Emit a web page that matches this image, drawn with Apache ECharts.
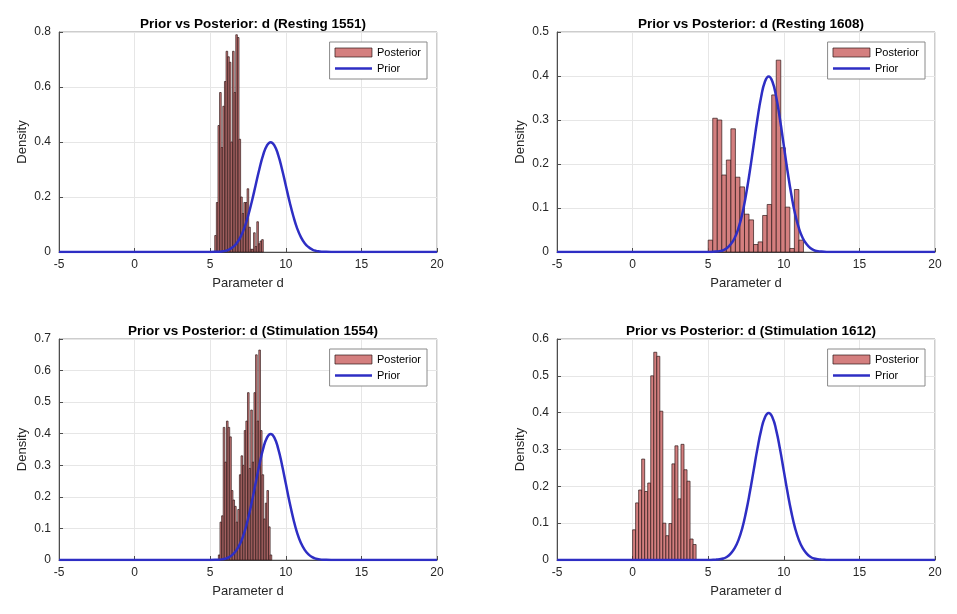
<!DOCTYPE html>
<html>
<head>
<meta charset="utf-8">
<script src="https://cdn.jsdelivr.net/npm/echarts@6/dist/echarts.min.js"></script>
<style>
  html, body { margin: 0; padding: 0; background: #fff; }
  #main { width: 957px; height: 614px; }
</style>
</head>
<body>
<div id="main"></div>
<script>
var titles = [
    'Prior vs Posterior: d (Resting 1551)',
    'Prior vs Posterior: d (Resting 1608)',
    'Prior vs Posterior: d (Stimulation 1554)',
    'Prior vs Posterior: d (Stimulation 1612)'
];

// histogram bins: first left edge and bin width per panel
var binStart = [5.3, 5.0, 5.54, 0.0];
var binWidth = [0.107, 0.3, 0.107, 0.2];

// posterior densities
var post1551 = [0.06, 0.18, 0.46, 0.58, 0.38, 0.53, 0.62, 0.73, 0.71, 0.69,
    0.40, 0.73, 0.58, 0.79, 0.78, 0.41, 0.20, 0.14, 0.18, 0.18,
    0.23, 0.09, 0.01, 0.01, 0.07, 0.02, 0.11, 0.03, 0.04, 0.045];
var post1608 = [0.027, 0.304, 0.300, 0.175, 0.209, 0.280, 0.170, 0.148, 0.086, 0.073,
    0.017, 0.023, 0.083, 0.108, 0.357, 0.436, 0.237, 0.102, 0.008, 0.142, 0.027];
var post1554 = [0.016, 0.12, 0.14, 0.42, 0.31, 0.44, 0.42, 0.39, 0.22, 0.19,
    0.17, 0.12, 0.16, 0.27, 0.33, 0.30, 0.41, 0.44, 0.53, 0.29,
    0.475, 0.31, 0.53, 0.65, 0.44, 0.665, 0.41, 0.27, 0.13, 0.18,
    0.22, 0.105, 0.016];
var post1612 = [0.082, 0.155, 0.19, 0.274, 0.186, 0.209, 0.50, 0.564, 0.553, 0.404,
    0.10, 0.066, 0.099, 0.261, 0.31, 0.166, 0.314, 0.245, 0.214, 0.057, 0.042];

// prior curve (same in every panel)
var priorX = [-5, 5, 5.5, 5.75, 6, 6.25, 6.5, 6.75, 7, 7.25, 7.5, 7.75, 8, 8.25, 8.5, 8.75,
    9, 9.25, 9.5, 9.75, 10, 10.25, 10.5, 10.75, 11, 11.25, 11.5, 11.75, 12, 12.25, 12.5, 13, 20];
var priorY = [0, 0, 0.001, 0.002, 0.004, 0.009, 0.018, 0.032, 0.054, 0.086, 0.13, 0.183, 0.242, 0.301, 0.352, 0.387,
    0.399, 0.387, 0.352, 0.301, 0.242, 0.183, 0.13, 0.086, 0.054, 0.032, 0.018, 0.009, 0.004, 0.002, 0.001, 0, 0];

var yMax = [0.8, 0.5, 0.7, 0.6];
var yStep = [0.2, 0.1, 0.1, 0.1];
var xMin = -5, xMax = 20, xStep = 5;

var posts = [post1551, post1608, post1554, post1612];

var myChart = echarts.init(document.getElementById('main'));

var font = '"Liberation Sans", Arial, Helvetica, sans-serif';
var barFill = '#d47f7f';
var barEdge = 'rgba(40,20,20,0.85)';
var priorColor = '#2e2ec4';

var boxes = [
    { left: 59, top: 32, width: 378, height: 220 },
    { left: 557, top: 32, width: 378, height: 220 },
    { left: 59, top: 339, width: 378, height: 221 },
    { left: 557, top: 339, width: 378, height: 221 }
];

function renderBar(params, api) {
    var p0 = api.coord([api.value(0), api.value(2)]);
    var p1 = api.coord([api.value(1), 0]);
    return {
        type: 'rect',
        shape: { x: p0[0], y: p0[1], width: p1[0] - p0[0], height: p1[1] - p0[1] },
        style: { fill: barFill, stroke: barEdge, lineWidth: 0.8 }
    };
}

var grid = [], xAxis = [], yAxis = [], series = [], title = [], legend = [];

for (var i = 0; i < 4; i++) {
    var b = boxes[i];
    grid.push({
        left: b.left, top: b.top, width: b.width, height: b.height,
        show: true, borderColor: '#9a9a9a', borderWidth: 1, backgroundColor: '#fff'
    });
    title.push({
        text: titles[i],
        left: b.left + b.width / 2,
        top: b.top - 20,
        textAlign: 'center',
        textStyle: { fontFamily: font, fontSize: 13.5, fontWeight: 'bold', color: '#000' }
    });
    xAxis.push({
        type: 'value', gridIndex: i, min: xMin, max: xMax, interval: xStep,
        name: 'Parameter d', nameLocation: 'middle', nameGap: 25,
        nameTextStyle: { fontFamily: font, fontSize: 13, color: '#262626' },
        axisLine: { show: true, onZero: false, lineStyle: { color: '#4d4d4d' } },
        axisTick: { show: true, inside: true, length: 4, lineStyle: { color: '#4d4d4d' } },
        axisLabel: { fontFamily: font, fontSize: 12, color: '#262626', margin: 7 },
        splitLine: { show: true, lineStyle: { color: '#e6e6e6' } }
    });
    yAxis.push({
        type: 'value', gridIndex: i, min: 0, max: yMax[i], interval: yStep[i],
        name: 'Density', nameLocation: 'middle', nameGap: 30,
        nameTextStyle: { fontFamily: font, fontSize: 13, color: '#262626' },
        axisLine: { show: true, onZero: false, lineStyle: { color: '#4d4d4d' } },
        axisTick: { show: true, inside: true, length: 4, lineStyle: { color: '#4d4d4d' } },
        axisLabel: { fontFamily: font, fontSize: 12, color: '#262626', margin: 8 },
        splitLine: { show: true, lineStyle: { color: '#e6e6e6' } }
    });

    var bars = [];
    for (var k = 0; k < posts[i].length; k++) {
        var x0 = binStart[i] + k * binWidth[i];
        bars.push([x0, x0 + binWidth[i], posts[i][k]]);
    }
    series.push({
        name: 'Posterior',
        type: 'custom',
        xAxisIndex: i, yAxisIndex: i,
        renderItem: renderBar,
        encode: { x: [0, 1], y: 2 },
        itemStyle: { color: barFill, borderColor: barEdge, borderWidth: 0.8 },
        data: bars,
        z: 2
    });

    var prior = [];
    for (var j = 0; j < priorX.length; j++) {
        prior.push([priorX[j], priorY[j]]);
    }
    series.push({
        name: 'Prior',
        type: 'line',
        xAxisIndex: i, yAxisIndex: i,
        showSymbol: false, symbol: 'none',
        smooth: 0.5,
        lineStyle: { color: priorColor, width: 2.5 },
        itemStyle: { color: priorColor },
        data: prior,
        z: 3
    });

    legend.push({
        orient: 'vertical',
        right: 957 - (b.left + b.width - 10),
        top: b.top + 10,
        padding: [5, 6, 5, 5],
        itemWidth: 37, itemHeight: 9, itemGap: 5,
        backgroundColor: '#fff',
        borderColor: '#8a8a8a', borderWidth: 1, borderRadius: 0,
        textStyle: { fontFamily: font, fontSize: 11, color: '#000' },
        selectedMode: false,
        data: [
            { name: 'Posterior', icon: 'rect', itemStyle: { color: barFill, borderColor: barEdge, borderWidth: 0.8 } },
            { name: 'Prior', icon: 'path://M0,4 L37,4 L37,6.5 L0,6.5 Z', itemStyle: { color: priorColor } }
        ]
    });
}

var option = {
    animation: false,
    backgroundColor: '#fff',
    title: title,
    grid: grid,
    xAxis: xAxis,
    yAxis: yAxis,
    legend: legend,
    series: series
};
myChart.setOption(option);
</script>
</body>
</html>
